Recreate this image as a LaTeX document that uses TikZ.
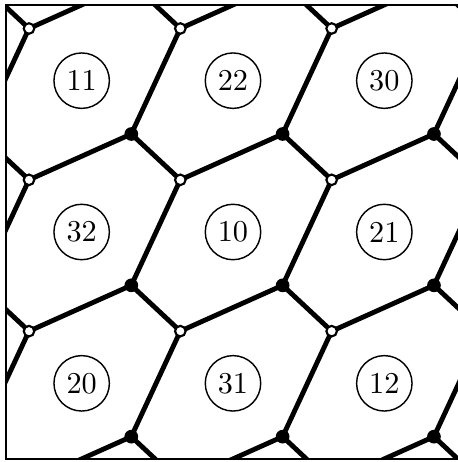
\documentclass[tikz,border=0pt]{standalone}
\tikzset{
  edge/.style={line width=1.7pt},
  frame/.style={line width=0.75pt},
  wdot/.style={circle,draw,fill=white,line width=0.75pt,inner sep=0pt,minimum size=3.7pt},
  bdot/.style={circle,fill=black,inner sep=0pt,minimum size=4.8pt},
  lbl/.style={circle,draw,line width=0.5pt,inner sep=0pt,minimum size=19.4pt,font=\fontsize{10.6}{12}\selectfont},
}
\begin{document}
\begin{tikzpicture}[x=0.35pt,y=-0.35pt]
\useasboundingbox (0,0) rectangle (458,462);
\def\s{151.33}
% vertex positions (index shifted by +1)
\foreach \i in {0,...,4}{\foreach \j in {0,...,4}{
  \coordinate (w\i\j) at ({6+\s*(\i-1)+23},{5+\s*(\j-1)+23.5});
  \coordinate (b\i\j) at ({6+\s*(\i-1)+125.3},{5+\s*(\j-1)+129});
}}
\begin{scope}
\clip (6,5) rectangle (460,459);
\foreach \i in {0,...,3}{\foreach \j in {0,...,3}{
  \pgfmathtruncatemacro\ii{\i+1}\pgfmathtruncatemacro\jj{\j+1}
  \draw[edge] (b\i\j) -- (w\ii\j) (b\i\j) -- (w\i\jj) (b\i\j) -- (w\ii\jj);
}}
\end{scope}
\foreach \i in {1,2,3}{\foreach \j in {1,2,3}{
  \node[bdot] (B\i\j) at (b\i\j) {};
  \node[wdot] (W\i\j) at (w\i\j) {};
}}
\draw[frame] (6,5) rectangle (460,459);
% labels
\node[lbl] (c11) at ({6+\s*0.5},{5+\s*0.5}) {11};
\node[lbl] (c22) at ({6+\s*1.5},{5+\s*0.5}) {22};
\node[lbl] (c30) at ({6+\s*2.5},{5+\s*0.5}) {30};
\node[lbl] (c32) at ({6+\s*0.5},{5+\s*1.5}) {32};
\node[lbl] (c10) at ({6+\s*1.5},{5+\s*1.5}) {10};
\node[lbl] (c21) at ({6+\s*2.5},{5+\s*1.5}) {21};
\node[lbl] (c20) at ({6+\s*0.5},{5+\s*2.5}) {20};
\node[lbl] (c31) at ({6+\s*1.5},{5+\s*2.5}) {31};
\node[lbl] (c12) at ({6+\s*2.5},{5+\s*2.5}) {12};
\end{tikzpicture}
\end{document}
